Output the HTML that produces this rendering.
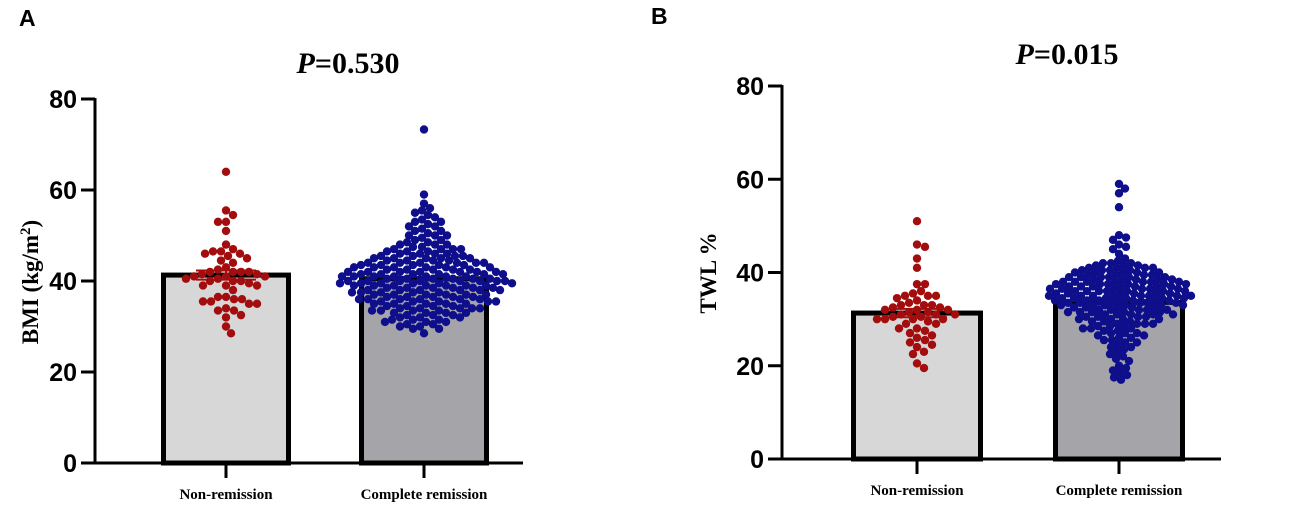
<!DOCTYPE html>
<html><head><meta charset="utf-8"><style>
html,body{margin:0;padding:0;background:#fff;}
svg{display:block;}
.tick{font-family:"Liberation Sans",sans-serif;font-weight:bold;font-size:25px;}
.cat{font-family:"Liberation Serif",serif;font-weight:bold;font-size:15px;}
.ttl{font-family:"Liberation Serif",serif;font-weight:bold;font-size:30px;}
.ylab{font-family:"Liberation Serif",serif;font-weight:bold;font-size:23px;}
.pl{font-family:"Liberation Sans",sans-serif;font-weight:bold;font-size:23px;}
</style></head><body>
<svg id="fig" width="1299" height="509" viewBox="0 0 1299 509" xmlns="http://www.w3.org/2000/svg">
<text class="pl" x="19" y="26">A</text>
<text class="pl" x="651" y="24">B</text>
<text class="ttl" x="348" y="73" text-anchor="middle"><tspan font-style="italic">P</tspan>=0.530</text>
<text class="ttl" x="1067" y="64" text-anchor="middle"><tspan font-style="italic">P</tspan>=0.015</text>
<text class="ylab" transform="translate(38,282) rotate(-90)" text-anchor="middle">BMI (kg/m<tspan baseline-shift="super" font-size="15">2</tspan>)</text>
<text class="ylab" transform="translate(716,273) rotate(-90)" text-anchor="middle">TWL %</text>
</svg>
<script>
const categories = ["Non-remission", "Complete remission"];
const yTicks = [0, 20, 40, 60, 80];
const meansA = [41.3, 40.5];
const meansB = [31.3, 33.6];
const semA = [1.0, 0.4];
const semB = [0.9, 0.5];
const nonA = [64,55.5,54.5,53,53,51,48,47,46.5,46.5,46,46,45.5,45,44.5,44,43,42.5,42,42,42,42,41.5,41.5,41,41,41,40.5,40.5,40,40,40,39.5,39,39,39,38,36.5,36.5,36,36,35.5,35.5,35,35,34,33.5,33.5,32.5,32,30,28.5];
const compA = [73.3,59,57,56,55.5,55,54.5,54,53.5,53,53,52.5,52,52,51.5,51,51,50.5,50,50,50,49.5,49,49,48.5,48.5,48,48,48,47.5,47.5,47,47,47,47,46.5,46.5,46.5,46,46,46,46,45.5,45.5,45.5,45.5,45,45,45,45,45,44.5,44.5,44.5,44.5,44,44,44,44,44,44,43.5,43.5,43.5,43.5,43.5,43,43,43,43,43,43,42.5,42.5,42.5,42.5,42.5,42,42,42,42,42,42,42,41.5,41.5,41.5,41.5,41.5,41.5,41,41,41,41,41,41,41,40.5,40.5,40.5,40.5,40.5,40.5,40,40,40,40,40,40,40,40,39.5,39.5,39.5,39.5,39.5,39.5,39,39,39,39,39,39,39,38.5,38.5,38.5,38.5,38.5,38.5,38,38,38,38,38,38,37.5,37.5,37.5,37.5,37.5,37,37,37,37,37,37,36.5,36.5,36.5,36.5,36.5,36,36,36,36,36,36,35.5,35.5,35.5,35.5,35.5,35,35,35,35,35,34.5,34.5,34.5,34.5,34,34,34,34,34,33.5,33.5,33.5,33.5,33,33,33,33,32.5,32.5,32.5,32,32,32,31.5,31.5,31.5,31,31,31,30.5,30.5,30,30,29.5,29.5,28.5];
const nonB = [51,46,45.5,43,41,37.5,37.5,36,35.5,35,35,35,34.5,34,33.5,33,33,33,32.5,32.5,32,32,32,31.5,31.5,31,31,31,30.5,30.5,30,30,30,30,29.5,29,29,28,28,27.5,27,26.5,26,25.5,25,24.5,24,23,22.5,20.5,19.5];
const compB = [59,58,57,54,48,47.5,47,46,45.5,45,44,43,42.5,42,42,42,41.5,41.5,41.5,41,41,41,41,40.5,40.5,40.5,40.5,40,40,40,40,40,39.5,39.5,39.5,39.5,39,39,39,39,39,39,38.5,38.5,38.5,38.5,38.5,38,38,38,38,38,38,38,37.5,37.5,37.5,37.5,37.5,37.5,37,37,37,37,37,37,37,36.5,36.5,36.5,36.5,36.5,36.5,36,36,36,36,36,36,36,35.5,35.5,35.5,35.5,35.5,35.5,35,35,35,35,35,35,35,35,34.5,34.5,34.5,34.5,34.5,34.5,34,34,34,34,34,34,34,33.5,33.5,33.5,33.5,33.5,33.5,33,33,33,33,33,33,32.5,32.5,32.5,32.5,32.5,32,32,32,32,32,31.5,31.5,31.5,31.5,31.5,31,31,31,31,31,30.5,30.5,30.5,30.5,30,30,30,30,29.5,29.5,29.5,29,29,29,29,28.5,28.5,28.5,28,28,28,27.5,27.5,27,27,27,26.5,26.5,26,26,25.5,25.5,25,25,24.5,24,24,23.5,23,22.5,22,21.5,21,20,19.5,19,18.5,18,17.5,17];

const NS = "http://www.w3.org/2000/svg";
const svg = document.getElementById("fig");
function mk(tag, attrs){const e=document.createElementNS(NS,tag);for(const k in attrs)e.setAttribute(k,attrs[k]);svg.appendChild(e);return e;}

function panel(p, id, means, sems, groups){
  const y = v => p.y0 - (v/80)*(p.y0-p.y80);
  const r = 4.2;
  means.forEach((m,i)=>{
    const b = mk("rect",{x:p.bx[i]+2.5,y:y(m),width:p.bw-5,height:p.y0-y(m),fill:i===0?"#d7d7d7":"#a4a4a9",stroke:"#000","stroke-width":5});
    
    
  });
  groups.forEach((vals,i)=>{
    const cx = p.bx[i]+p.bw/2;
    const col = i===0?"#a30d0d":"#0f0f8c";
    const placed=[];
    const sorted=[...vals].sort((a,b)=>b-a);
    const minD = 2*r*(i===0?0.95:0.84);
    sorted.forEach(v=>{
      const py=y(v);
      let dx=0, found=false;
      for(let s=0;s<300&&!found;s++){
        const cands = s===0?[0]:[s*1.0,-s*1.0];
        for(const c of cands){
          if(placed.every(q=>(q[0]-c)**2+(q[1]-py)**2>=minD**2)){dx=c;found=true;break;}
        }
      }
      placed.push([dx,py]);
      const d = mk("circle",{cx:cx+dx,cy:py,r:r,fill:col});
      
      
    });
    const m=means[i], s=sems[i];
    const eb = mk("path",{d:`M${cx-30},${y(m+s)}H${cx+30}M${cx},${y(m+s)}V${y(m-s)}M${cx-30},${y(m-s)}H${cx+30}`,stroke:col,"stroke-width":2,fill:"none"});
    
    
  });
  const ya = mk("line",{x1:p.ax,y1:p.y80-1,x2:p.ax,y2:p.y0+1,stroke:"#000","stroke-width":3});
  
  
  const xa = mk("line",{x1:p.ax-14,y1:p.y0,x2:p.xend,y2:p.y0,stroke:"#000","stroke-width":3});
  
  
  yTicks.forEach(t=>{
    const tl = mk("line",{x1:p.ax-14,y1:y(t),x2:p.ax,y2:y(t),stroke:"#000","stroke-width":3});
    
    
    const tx = mk("text",{x:p.ax-18,y:y(t)+9,"text-anchor":"end",class:"tick"});
    tx.textContent=t;
    
    
  });
  categories.forEach((c,i)=>{
    const cx=p.bx[i]+p.bw/2;
    const tl = mk("line",{x1:cx,y1:p.y0,x2:cx,y2:p.y0+15,stroke:"#000","stroke-width":3});
    
    
    const tx = mk("text",{x:cx,y:p.y0+36,"text-anchor":"middle",class:"cat"});
    tx.textContent=c;
    
    
  });
}
panel({ax:95,y0:463,y80:99,bx:[161,359],bw:130,xend:523},"panel-a",meansA,semA,[nonA,compA]);
panel({ax:782,y0:459,y80:86,bx:[851,1053],bw:132,xend:1221},"panel-b",meansB,semB,[nonB,compB]);
</script>
</body></html>
